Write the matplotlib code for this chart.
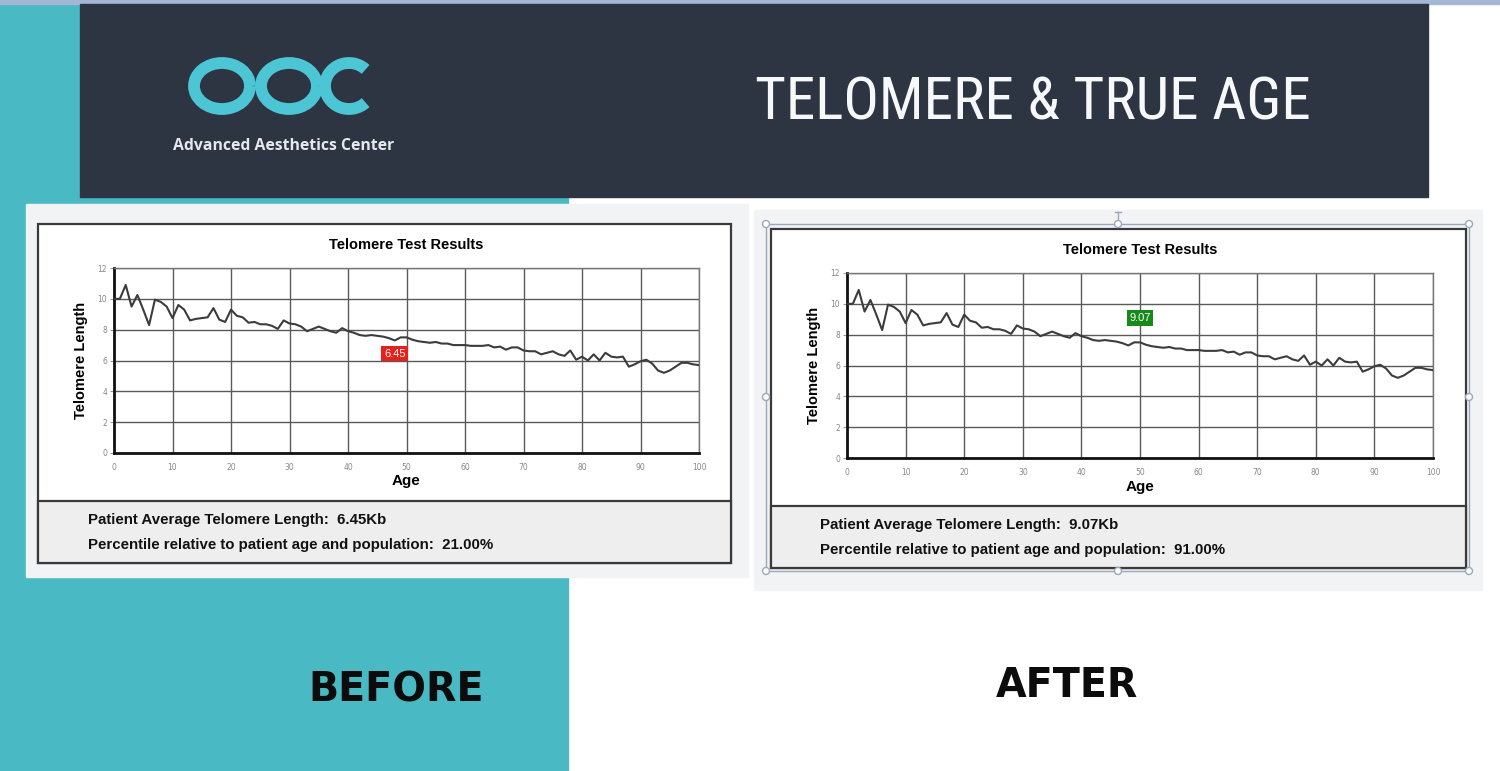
import matplotlib
matplotlib.use('Agg')
import os
import matplotlib.pyplot as plt
from matplotlib.patches import Rectangle, Arc, Circle
from matplotlib.font_manager import findfont, FontProperties

# reference telomere curve (same in both reports)
ages = list(range(0, 101))
telomere = [10.0, 10.0, 10.9, 9.5, 10.25, 9.3, 8.3, 9.95, 9.8, 9.5,
            8.75, 9.6, 9.3, 8.6, 8.7, 8.75, 8.8, 9.4, 8.65, 8.5,
            9.3, 8.9, 8.8, 8.45, 8.5, 8.35, 8.35, 8.25, 8.05, 8.6,
            8.4, 8.35, 8.2, 7.9, 8.05, 8.2, 8.05, 7.9, 7.8, 8.1,
            7.9, 7.8, 7.65, 7.6, 7.65, 7.6, 7.55, 7.45, 7.3, 7.5,
            7.5, 7.35, 7.25, 7.2, 7.15, 7.2, 7.1, 7.1, 7.0, 7.0,
            7.0, 6.95, 6.95, 6.95, 7.0, 6.85, 6.9, 6.7, 6.85, 6.85,
            6.65, 6.6, 6.6, 6.4, 6.5, 6.6, 6.4, 6.3, 6.65, 6.05,
            6.25, 6.0, 6.4, 6.0, 6.5, 6.25, 6.2, 6.25, 5.6, 5.75,
            5.95, 6.05, 5.8, 5.35, 5.2, 5.35, 5.6, 5.85, 5.85, 5.75, 5.7]

panel_names = ['BEFORE', 'AFTER']
patient_length = [6.45, 9.07]
patient_age = [48, 50]
percentile = [21.00, 91.00]
marker_colors = ['#e8201c', '#17891a']

x_ticks = list(range(0, 101, 10))
y_ticks = list(range(0, 13, 2))


def condensed_font(weight='normal'):
    # look for any narrow face; fall back to plain Liberation Sans
    for name in ['Roboto Condensed', 'Liberation Sans Narrow', 'Open Sans Condensed',
                 'DejaVu Sans Condensed']:
        try:
            findfont(FontProperties(family=name), fallback_to_default=False)
            return FontProperties(family=name, weight=weight)
        except ValueError:
            pass
    fp = FontProperties(family='DejaVu Sans', stretch='condensed', weight=weight)
    if 'Condensed' in os.path.basename(findfont(fp)):
        return fp
    return FontProperties(family='Liberation Sans', weight=weight)


arial = 'Liberation Sans'

W, H = 1500, 771
fig = plt.figure(figsize=(W / 100, H / 100), dpi=100)
bg = fig.add_axes([0, 0, 1, 1])
bg.set_xlim(0, W); bg.set_ylim(H, 0)
bg.axis('off')

teal = '#49b9c3'
dark = '#2e3542'

# backdrop
bg.add_patch(Rectangle((0, 0), 568, H, color=teal, zorder=0))
bg.add_patch(Rectangle((0, 0), W, 4, color='#a3b6d6', zorder=1))
bg.add_patch(Rectangle((80, 4), 1348, 193, color=dark, zorder=1))

# logo
logo = '#4cc5d4'
bg.add_patch(Arc((222, 86), 56, 46, lw=8.5, color=logo, zorder=2))
bg.add_patch(Arc((289, 86), 56, 46, lw=8.5, color=logo, zorder=2))
bg.add_patch(Arc((349, 86), 48, 46, theta1=45, theta2=315, lw=8.5, color=logo, zorder=2))
bg.text(284, 146, 'Advanced Aesthetics Center', color='#e6e9ec', fontsize=11.3,
        fontweight='bold', family='Open Sans', ha='center', va='center', zorder=3)

title = bg.text(755, 103, 'TELOMERE & TRUE AGE', color='#f6f8f9', fontsize=40,
                fontproperties=condensed_font(), ha='left', va='center', zorder=3)
title.set_fontsize(40)

# report frames (pixel boxes)
frames = [
    dict(outer=(26, 204, 748, 577), box=(38, 224, 731, 563), info_top=501,
         ax=(114, 268, 699, 453), text_x=88, text_y=520, label=(396, 691)),
    dict(outer=(754, 210, 1482, 590), box=(771, 229, 1466, 568), info_top=506,
         ax=(847, 273, 1433, 458), text_x=820, text_y=525, label=(1067, 686)),
]

info_texts = []
for i, fr in enumerate(frames):
    x0, y0, x1, y1 = fr['outer']
    bg.add_patch(Rectangle((x0, y0), x1 - x0, y1 - y0, color='#f2f3f5', zorder=2))
    bx0, by0, bx1, by1 = fr['box']
    bg.add_patch(Rectangle((bx0, by0), bx1 - bx0, by1 - by0, facecolor='white',
                           edgecolor='#3a3a3a', lw=1.6, zorder=3))
    bg.add_patch(Rectangle((bx0, fr['info_top']), bx1 - bx0, by1 - fr['info_top'],
                           facecolor='#eeeeee', edgecolor='#3a3a3a', lw=1.6, zorder=3))
    t1 = bg.text(fr['text_x'], fr['text_y'],
                 'Patient Average Telomere Length:  %.2fKb' % patient_length[i],
                 fontsize=11, fontweight='bold', family=arial, color='#111111',
                 va='center', zorder=4)
    t2 = bg.text(fr['text_x'], fr['text_y'] + 25,
                 'Percentile relative to patient age and population:  %.2f%%' % percentile[i],
                 fontsize=11, fontweight='bold', family=arial, color='#111111',
                 va='center', zorder=4)
    info_texts += [t1, t2]
    bg.text(fr['label'][0], fr['label'][1], panel_names[i], fontsize=28.5,
            fontweight='bold', color='#0c0c0c', ha='center', va='center', zorder=4)

    ax0, ay0, ax1, ay1 = fr['ax']
    ax = fig.add_axes([ax0 / W, (H - ay1) / H, (ax1 - ax0) / W, (ay1 - ay0) / H])
    ax.plot(ages, telomere, color='#3c3c3c', lw=1.5, zorder=3)
    ax.set_xlim(0, 100); ax.set_ylim(0, 12)
    ax.set_xticks(x_ticks); ax.set_yticks(y_ticks)
    ax.grid(True, color='#5a5a5a', lw=1.0)
    ax.set_axisbelow(True)
    for s in ['top', 'right']:
        ax.spines[s].set_color('#777777'); ax.spines[s].set_linewidth(1.0)
    for s in ['left', 'bottom']:
        ax.spines[s].set_color('#111111'); ax.spines[s].set_linewidth(2.0)
    ax.tick_params(axis='x', length=0, pad=7, labelsize=5.5, labelcolor='#888888')
    ax.tick_params(axis='y', length=3, width=0.8, color='#999999', pad=2,
                   labelsize=5.5, labelcolor='#888888')
    ax.set_title('Telomere Test Results', fontsize=10.5, fontweight='bold',
                 family=arial, pad=14)
    ax.set_xlabel('Age', fontsize=11, fontweight='bold', family=arial, labelpad=2)
    ax.set_ylabel('Telomere Length', fontsize=10.5, fontweight='bold', family=arial,
                  labelpad=7)
    ax.text(patient_age[i], patient_length[i], '%.2f' % patient_length[i],
            color='white', fontsize=8, family=arial, ha='center', va='center', zorder=5,
            bbox=dict(boxstyle='square,pad=0.25', facecolor=marker_colors[i],
                      edgecolor='none'))

# selection handles on the AFTER report
sel = '#9aa8bb'
bg.add_patch(Rectangle((766, 224), 703, 347, fill=False, edgecolor=sel, lw=1.0, zorder=5))
bg.plot([1118, 1118], [212, 224], color=sel, lw=1.0, zorder=5)
bg.plot([1115, 1121], [212, 212], color=sel, lw=1.0, zorder=5)
for hx, hy in [(766, 224), (1118, 224), (1469, 224), (766, 397), (1469, 397),
               (766, 571), (1118, 571), (1469, 571)]:
    bg.add_patch(Circle((hx, hy), 3.5, facecolor='white', edgecolor=sel, lw=1.0, zorder=6))

# size the header title and the report lines to the widths seen in the reference
fig.canvas.draw()
rend = fig.canvas.get_renderer()
tw = title.get_window_extent(rend).width
title.set_fontsize(40 * 555 / tw)
lw2 = info_texts[1].get_window_extent(rend).width
for t in info_texts:
    t.set_fontsize(11 * 406 / lw2)

fig.savefig('out.png', dpi=100)
